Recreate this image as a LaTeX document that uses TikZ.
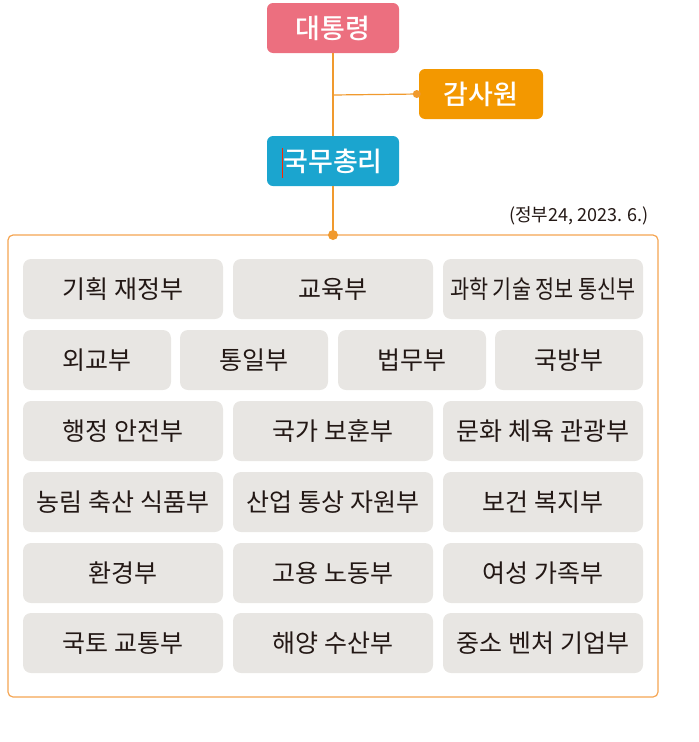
\documentclass[tikz,border=0pt]{standalone}
\usepackage{fontspec}
\usepackage{graphicx}
\newfontfamily\kr{Noto Sans CJK KR}
\newfontfamily\krm{Noto Sans CJK KR Medium}
\begin{document}
\begin{tikzpicture}[x=1pt,y=-1pt,
  top/.style={rounded corners=6pt,minimum width=132pt,minimum height=50pt,inner sep=0pt,text=white,font=\krm\fontsize{27}{27}\selectfont},
  dept/.style={fill=deptgray,rounded corners=8pt,inner sep=0pt,minimum height=60pt,text=txt,font=\kr\fontsize{25}{25}\selectfont},
  wide/.style={dept,minimum width=200pt},
  narrow/.style={dept,minimum width=148pt},
  link/.style={draw=lineor,line width=1.2pt}]
\definecolor{deptgray}{HTML}{E8E6E3}
\definecolor{txt}{HTML}{231815}
\definecolor{lineor}{HTML}{F09A2E}
\definecolor{pinkc}{HTML}{EC6F7F}
\definecolor{orc}{HTML}{F39800}
\definecolor{bluec}{HTML}{1BA5CF}
\definecolor{frame}{HTML}{F5A552}
\useasboundingbox (0,0) rectangle (699,742);
% big frame
\node[draw=frame,line width=1.2pt,rounded corners=5pt,minimum width=650pt,minimum height=462pt,inner sep=0pt] (frm) at (333,466) {};
% top nodes
\node[top,fill=pinkc] (pres) at (333,28) {대통령};
\node[top,fill=orc,minimum width=124pt] (audit) at (481,94) {감사원};
\node[top,fill=bluec] (pm) at (333,161) {국무총리};
\draw[draw=red!70!orange,line width=0.8pt] (282,148) -- (282,178);
\coordinate (br) at (333,95);
\coordinate (ftop) at (333,235);
\draw[link] (pres.south) -- (pm.north);
\draw[link] (br) -- (audit.west);
\fill[lineor] ([xshift=-2pt]audit.west) circle (4pt);
\draw[link] (pm.south) -- (ftop);
\fill[lineor] (ftop) circle (5pt);
\node[anchor=east,text=txt,font=\kr\fontsize{18}{18}\selectfont,inner sep=0pt] (note) at (649,216) {(정부24, 2023. 6.)};
% rows
\node[wide] (a1) at (123,289) {기획 재정부};
\node[wide] (a2) at (333,289) {교육부};
\node[wide] (a3) at (543,289) {\scalebox{0.83}[1]{과학 기술 정보 통신부}};
\node[narrow] (b1) at (97,360) {외교부};
\node[narrow] (b2) at (254,360) {통일부};
\node[narrow] (b3) at (412,360) {법무부};
\node[narrow] (b4) at (569,360) {국방부};
\node[wide] (c1) at (123,431) {행정 안전부};
\node[wide] (c2) at (333,431) {국가 보훈부};
\node[wide] (c3) at (543,431) {문화 체육 관광부};
\node[wide] (d1) at (123,502) {농림 축산 식품부};
\node[wide] (d2) at (333,502) {산업 통상 자원부};
\node[wide] (d3) at (543,502) {보건 복지부};
\node[wide] (e1) at (123,573) {환경부};
\node[wide] (e2) at (333,573) {고용 노동부};
\node[wide] (e3) at (543,573) {여성 가족부};
\node[wide] (f1) at (123,643) {국토 교통부};
\node[wide] (f2) at (333,643) {해양 수산부};
\node[wide] (f3) at (543,643) {중소 벤처 기업부};
\end{tikzpicture}
\end{document}
